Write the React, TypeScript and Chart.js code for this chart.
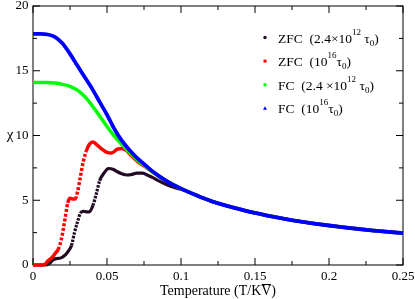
import React, { useEffect, useRef } from "react";
import { Chart, registerables } from "chart.js";

Chart.register(...registerables);

const FONT = '"Liberation Serif", "Times New Roman", serif';

const xTicks = [0, 0.05, 0.1, 0.15, 0.2, 0.25];
const xMinorTicks = [0.025, 0.075, 0.125, 0.175, 0.225];
const yTicks = [0, 5, 10, 15, 20];
const yMinorTicks = [2.5, 7.5, 12.5, 17.5];

// shared high-temperature tail (all four curves coincide)
const tailT = [0.12, 0.13, 0.14, 0.15, 0.16, 0.17, 0.18, 0.19, 0.2, 0.21, 0.22, 0.23, 0.24, 0.25];
const tailChi = [4.95, 4.6, 4.3, 4.02, 3.78, 3.56, 3.37, 3.2, 3.05, 2.91, 2.78, 2.66, 2.56, 2.46];

// FC (10^16 tau0) - blue
const fc16T = [0, 0.005, 0.01, 0.015, 0.02, 0.025, 0.03, 0.035, 0.04, 0.045, 0.05, 0.055, 0.06, 0.065, 0.07, 0.075, 0.08, 0.09, 0.1, 0.11];
const fc16Chi = [17.85, 17.85, 17.8, 17.6, 17.1, 16.3, 15.4, 14.5, 13.6, 12.6, 11.6, 10.5, 9.6, 8.9, 8.3, 7.8, 7.3, 6.5, 5.9, 5.4];

// FC (2.4x10^12 tau0) - green
const fc12T = [0, 0.005, 0.01, 0.015, 0.02, 0.025, 0.03, 0.035, 0.04, 0.045, 0.05, 0.055, 0.06, 0.065, 0.07, 0.075, 0.08, 0.09, 0.1, 0.11];
const fc12Chi = [14.1, 14.1, 14.1, 14.05, 13.95, 13.8, 13.5, 13.0, 12.3, 11.5, 10.7, 9.95, 9.3, 8.7, 8.15, 7.7, 7.25, 6.5, 5.9, 5.4];

// ZFC (10^16 tau0) - red
const zfc16T = [0, 0.005, 0.008, 0.01, 0.013, 0.015, 0.017, 0.019, 0.0205, 0.022, 0.0235, 0.025, 0.027, 0.0285, 0.03, 0.032, 0.034, 0.036, 0.038, 0.0405, 0.043, 0.046, 0.05, 0.053, 0.057, 0.06, 0.063, 0.066, 0.07, 0.075, 0.08, 0.09, 0.1, 0.11];
const zfc16Chi = [0, 0, 0.05, 0.3, 0.6, 0.9, 1.2, 1.9, 2.8, 3.8, 4.8, 5.15, 5.1, 5.1, 5.6, 6.8, 8.0, 8.8, 9.3, 9.5, 9.3, 9.0, 8.7, 8.65, 8.95, 9.0, 8.85, 8.5, 8.05, 7.65, 7.25, 6.5, 5.9, 5.4];

// ZFC (2.4x10^12 tau0) - black
const zfc12T = [0, 0.008, 0.011, 0.0135, 0.016, 0.019, 0.022, 0.024, 0.026, 0.028, 0.03, 0.032, 0.034, 0.036, 0.038, 0.0405, 0.043, 0.045, 0.048, 0.051, 0.054, 0.057, 0.06, 0.0635, 0.067, 0.07, 0.074, 0.078, 0.081, 0.085, 0.0905, 0.095, 0.1, 0.105, 0.11];
const zfc12Chi = [0, 0, 0.1, 0.4, 0.5, 0.55, 0.8, 1.1, 1.5, 2.5, 3.3, 4.0, 4.15, 4.1, 4.1, 4.6, 5.6, 6.5, 7.1, 7.45, 7.4, 7.2, 7.05, 6.95, 7.0, 7.1, 7.1, 6.9, 6.75, 6.5, 6.2, 6.0, 5.85, 5.65, 5.4];

const seriesColors = ["#220a22", "#ff0000", "#00ff00", "#0000ff"];

function build(ts: number[], cs: number[]) {
  const pts = ts.map((t, i) => ({ x: t, y: cs[i] }));
  tailT.forEach((t, i) => pts.push({ x: t, y: tailChi[i] }));
  return pts;
}

type Part = { t: string; k?: "sup" | "sub" };

const legendRows: Part[][] = [
  [{ t: "ZFC  (2.4\u00d710" }, { t: "12", k: "sup" }, { t: " \u03c4" }, { t: "0", k: "sub" }, { t: ")" }],
  [{ t: "ZFC  (10" }, { t: "16", k: "sup" }, { t: "\u03c4" }, { t: "0", k: "sub" }, { t: ")" }],
  [{ t: "FC  (2.4 \u00d710" }, { t: "12", k: "sup" }, { t: " \u03c4" }, { t: "0", k: "sub" }, { t: ")" }],
  [{ t: "FC  (10" }, { t: "16", k: "sup" }, { t: "\u03c4" }, { t: "0", k: "sub" }, { t: ")" }],
];

const decor = {
  id: "decor",
  beforeDatasetsDraw(chart: any) {
    const { ctx, chartArea: a, scales } = chart;
    const x = scales.x, y = scales.y;
    ctx.save();
    ctx.strokeStyle = "#000";
    ctx.lineWidth = 1;
    ctx.strokeRect(a.left, a.top, a.right - a.left, a.bottom - a.top);
    ctx.beginPath();
    const xt = (v: number, len: number) => {
      const px = x.getPixelForValue(v);
      ctx.moveTo(px, a.bottom); ctx.lineTo(px, a.bottom - len);
      ctx.moveTo(px, a.top); ctx.lineTo(px, a.top + len);
    };
    const yt = (v: number, len: number) => {
      const py = y.getPixelForValue(v);
      ctx.moveTo(a.left, py); ctx.lineTo(a.left + len, py);
      ctx.moveTo(a.right, py); ctx.lineTo(a.right - len, py);
    };
    xTicks.forEach((v) => xt(v, 7));
    xMinorTicks.forEach((v) => xt(v, 4));
    yTicks.forEach((v) => yt(v, 7));
    yMinorTicks.forEach((v) => yt(v, 4));
    ctx.stroke();
    ctx.restore();
  },
  afterDraw(chart: any) {
    const { ctx, chartArea: a } = chart;
    ctx.save();
    ctx.fillStyle = "#000";
    // y title
    ctx.font = `15px ${FONT}`;
    ctx.textAlign = "center";
    ctx.textBaseline = "middle";
    ctx.fillText("\u03c7", 10, 135);
    // x title with overlined V
    ctx.textBaseline = "alphabetic";
    ctx.textAlign = "left";
    ctx.font = `14px ${FONT}`;
    const p1 = "Temperature (T/K", p2 = "V", p3 = ")";
    const w1 = ctx.measureText(p1).width, w2 = ctx.measureText(p2).width, w3 = ctx.measureText(p3).width;
    const total = w1 + w2 + w3;
    const sx = (a.left + a.right) / 2 - total / 2;
    const by = 294.5;
    ctx.fillText(p1, sx, by);
    ctx.fillText(p2, sx + w1, by);
    ctx.fillText(p3, sx + w1 + w2, by);
    ctx.strokeStyle = "#000";
    ctx.lineWidth = 1;
    ctx.beginPath();
    ctx.moveTo(sx + w1 + 0.5, 284.5);
    ctx.lineTo(sx + w1 + w2 - 0.5, 284.5);
    ctx.stroke();
    // legend
    const mx = 265, tx = 278;
    legendRows.forEach((parts, i) => {
      const cy = 37.5 + i * 23.6;
      const col = seriesColors[i];
      ctx.fillStyle = col;
      ctx.beginPath();
      if (i === 1) ctx.rect(mx - 1.5, cy - 1.5, 3, 3);
      else if (i === 3) { ctx.moveTo(mx, cy - 2); ctx.lineTo(mx + 2, cy + 1.5); ctx.lineTo(mx - 2, cy + 1.5); ctx.closePath(); }
      else ctx.arc(mx, cy, 1.7, 0, Math.PI * 2);
      ctx.fill();
      ctx.fillStyle = "#000";
      let cx = tx;
      const base = cy + 5;
      parts.forEach((p) => {
        if (p.k) {
          ctx.font = `9px ${FONT}`;
          ctx.fillText(p.t, cx, base + (p.k === "sup" ? -8 : 3));
        } else {
          ctx.font = `13.5px ${FONT}`;
          ctx.fillText(p.t, cx, base);
        }
        cx += ctx.measureText(p.t).width;
      });
    });
    ctx.restore();
  },
};

// steep segments of the sampled ZFC curves show separated markers
const steepDash = (dash: number[]) => (c: any) => {
  const dx = Math.abs(c.p1.x - c.p0.x), dy = Math.abs(c.p1.y - c.p0.y);
  return dy > 2.2 * dx ? dash : undefined;
};

export default function App() {
  const ref = useRef<HTMLCanvasElement>(null);
  useEffect(() => {
    const ds = (label: string, ts: number[], cs: number[], color: string, order: number, bw: number, dash?: number[]) => ({
      label,
      data: build(ts, cs),
      borderColor: color,
      backgroundColor: color,
      borderWidth: bw,
      pointRadius: 0,
      showLine: true,
      cubicInterpolationMode: "monotone" as const,
      order,
      clip: 4,
      segment: dash ? { borderDash: steepDash(dash) } : undefined,
    });
    const chart = new Chart(ref.current!, {
      type: "scatter",
      data: {
        datasets: [
          ds("ZFC (2.4x10^12 tau0)", zfc12T, zfc12Chi, seriesColors[0], 3, 3.2, [2.5, 1.2]),
          ds("ZFC (10^16 tau0)", zfc16T, zfc16Chi, seriesColors[1], 2, 3.5, [3, 1.8]),
          ds("FC (2.4x10^12 tau0)", fc12T, fc12Chi, seriesColors[2], 1, 3.5),
          ds("FC (10^16 tau0)", fc16T, fc16Chi, seriesColors[3], 0, 3.8),
        ],
      },
      options: {
        animation: false,
        responsive: false,
        devicePixelRatio: 1,
        layout: { padding: { left: 0, top: 6, right: 12, bottom: 0 } },
        plugins: { legend: { display: false }, tooltip: { enabled: false } },
        scales: {
          x: {
            type: "linear",
            min: 0,
            max: 0.25,
            grid: { display: false, drawTicks: false },
            border: { display: false },
            afterBuildTicks: (s: any) => { s.ticks = xTicks.map((v) => ({ value: v })); },
            afterFit: (s: any) => { s.height = 34; s.paddingLeft = 0; s.paddingRight = 0; },
            ticks: {
              padding: 4,
              color: "#000",
              maxRotation: 0,
              autoSkip: false,
              font: { family: FONT, size: 13 },
              callback: (v: any) => String(Number(Number(v).toFixed(3))),
            },
          },
          y: {
            type: "linear",
            min: 0,
            max: 20,
            grid: { display: false, drawTicks: false },
            border: { display: false },
            afterBuildTicks: (s: any) => { s.ticks = yTicks.map((v) => ({ value: v })); },
            afterFit: (s: any) => { s.width = 33; s.paddingTop = 0; s.paddingBottom = 0; },
            ticks: {
              padding: 4.5,
              color: "#000",
              autoSkip: false,
              font: { family: FONT, size: 13, lineHeight: 1 },
              callback: (v: any) => String(v),
            },
          },
        },
      },
      plugins: [decor],
    } as any);
    return () => chart.destroy();
  }, []);
  return (
    <div style={{ position: "absolute", left: 0, top: 0, width: 415, height: 299 }}>
      <canvas ref={ref} width={415} height={299} style={{ display: "block", width: 415, height: 299 }} />
    </div>
  );
}
